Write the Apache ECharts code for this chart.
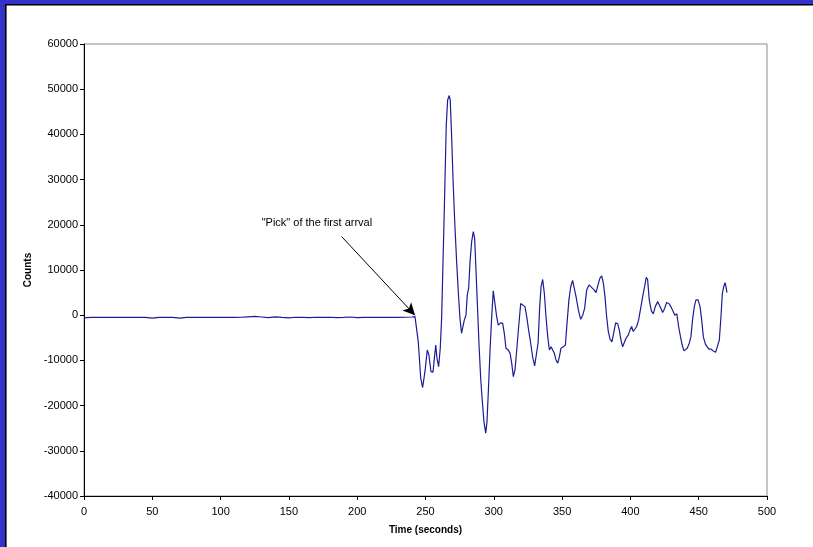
<!DOCTYPE html>
<html>
<head>
<meta charset="utf-8">
<script src="https://cdn.jsdelivr.net/npm/echarts@6/dist/echarts.min.js"></script>
<style>
html,body{margin:0;padding:0;background:#fff;}
#chart{width:813px;height:547px;}
</style>
</head>
<body>
<div id="chart"></div>
<script>
// Time in seconds
var times = [0,5,10,15,20,25,30,35,40,45,50,55,60,65,70,75,80,85,90,95,100,105,110,115,120,125,130,135,140,145,150,155,160,165,170,175,180,185,190,195,200,205,210,215,220,225,230,235,240,242.3,
244.7,246.5,247.9,249.6,251.3,252.5,254,255.5,256.5,257.5,258.4,259.6,260.8,261.8,263,264.2,265.2,266.2,267.4,268.1,269.1,270.3,271.5,272.8,274,275.2,276.4,277.4,278.4,279.6,280.6,281.6,282.6,283.8,285,286,287,287.9,289.2,290.4,291.6,292.8,294.1,295,296,297.2,298.4,299.6,300.9,302.1,303.3,305,306.5,307.7,308.9,310.6,311.9,313.1,314.3,315.5,316.8,318.2,319.7,321.1,322.8,324.1,325.5,327,328.4,329.9,331.1,332.4,333.6,334.6,335.8,337,338.2,339.5,340.7,341.9,343.1,344.3,345.5,346.8,348,349.2,350.9,352.4,353.6,355,356.3,357.7,358.9,360.2,361.9,363.6,365.1,366.5,368,369.7,371.4,373.4,374.8,376.3,377.7,379,380.2,381.4,382.6,383.8,385.1,386.5,387.7,389.2,390.7,391.9,393.1,394.3,395.5,396.8,398.4,399.7,400.9,402.1,403.4,404.6,406,407.5,409,410.4,411.6,412.6,413.8,415.4,416.8,418.2,420,421.7,423.6,425.1,426.5,428.2,429.6,431.3,432.5,434,435.3,436.7,437.9,439.2,440.4,441.6,443.1,444.3,445.6,446.8,448,449.5,451,452.2,453.4,454.9,456.3,457.5,459,460.7,462.4,463.6,465.1,466.3,467.3,468.3,469.3,470,470.7];
// Counts
var counts = [-600,-500,-500,-450,-500,-500,-500,-500,-480,-500,-650,-500,-500,-500,-650,-500,-500,-500,-500,-500,-500,-500,-500,-450,-350,-250,-400,-550,-350,-500,-600,-450,-500,-550,-450,-500,-450,-550,-500,-400,-550,-500,-450,-500,-500,-450,-500,-450,-400,-300,
-5860,-13900,-16000,-12500,-7700,-8800,-12500,-12600,-9500,-6600,-9500,-11400,-7300,-700,14000,28800,42000,47600,48600,47600,39900,28800,20000,11800,5200,-600,-4000,-2500,-1100,0,4500,6000,11800,16300,18500,17000,9600,3000,-6600,-14000,-19100,-23600,-26100,-23600,-16900,-8100,-700,5400,5400,-300,-2200,-1700,-1800,-4000,-7300,-7700,-8400,-10600,-13600,-12100,-7700,-2500,2600,2800,1900,-300,-3300,-6200,-9200,-11200,-11000,-6200,1900,6300,7900,4800,-300,-4800,-7700,-7000,-7700,-8400,-9900,-10600,-9200,-7300,-7000,-6600,-1800,3400,6300,7700,7400,4100,1200,-900,0,1500,5600,6700,6200,5600,5000,6700,8200,8700,7100,4100,-300,-3600,-5300,-5900,-4000,-1700,-1900,-3300,-5500,-7000,-6600,-5100,-4400,-3300,-2500,-3600,-3600,-2500,-1100,1500,4100,6300,8400,7900,3400,900,300,1900,3000,1900,600,1500,2800,2600,1900,800,0,300,-2500,-4800,-6600,-7900,-8200,-7300,-6200,-4800,-700,1900,3400,3400,1900,-1100,-4800,-6400,-6600,-7500,-7500,-7900,-8200,-7000,-5500,-300,4800,6300,7200,6200,5000];
var xTicks = {min:0, max:500, interval:50};
var yTicks = {min:-40000, max:60000, interval:10000};
var annotationText = '"Pick" of the first arrval';
var annotationAt = [170.5, 20300];
var arrowFrom = [188.6, 17400];
var arrowTo = [242.3, 0];

var data = times.map(function(t,i){return [t, counts[i]];});
var chart = echarts.init(document.getElementById('chart'), null, {renderer:'canvas'});
var font = 'Liberation Sans, Arial, sans-serif';
chart.setOption({
  animation:false,
  backgroundColor:'#ffffff',
  grid:{left:84, right:46, top:44, bottom:51, show:true, borderColor:'#8c8c8c', borderWidth:1, backgroundColor:'transparent'},
  xAxis:{type:'value', min:xTicks.min, max:xTicks.max, interval:xTicks.interval,
    name:'Time (seconds)', nameLocation:'middle', nameGap:29,
    nameTextStyle:{fontFamily:font, fontSize:10, fontWeight:'bold', color:'#000'},
    axisLine:{show:true, onZero:false, lineStyle:{color:'#000', width:1}},
    axisTick:{show:true, length:4, inside:false, lineStyle:{color:'#000'}},
    axisLabel:{fontFamily:font, fontSize:11, color:'#000', margin:10, formatter:function(v){return String(v);}},
    splitLine:{show:false}},
  yAxis:{type:'value', min:yTicks.min, max:yTicks.max, interval:yTicks.interval,
    name:'Counts', nameLocation:'middle', nameGap:49, nameRotate:90,
    nameTextStyle:{fontFamily:font, fontSize:10, fontWeight:'bold', color:'#000'},
    axisLine:{show:true, onZero:false, lineStyle:{color:'#000', width:1}},
    axisTick:{show:true, length:4, lineStyle:{color:'#000'}},
    axisLabel:{fontFamily:font, fontSize:11, color:'#000', margin:6, formatter:function(v){return String(v);}},
    splitLine:{show:false}},
  series:[{
    type:'line', data:data, showSymbol:false, smooth:false,
    lineStyle:{color:'#1c1c96', width:1.2},
    markLine:{silent:true, symbol:['none','arrow'], symbolSize:[9,12],
      lineStyle:{color:'#000', width:1, type:'solid'},
      label:{show:false},
      data:[[{coord:arrowFrom},{coord:arrowTo}]]}
  }]
});
var p = chart.convertToPixel({gridIndex:0}, annotationAt);
chart.setOption({graphic:[
  {type:'rect', shape:{x:0,y:0,width:813,height:4}, style:{fill:'#3333cc'}, z:100},
  {type:'rect', shape:{x:0,y:0,width:5,height:547}, style:{fill:'#3333cc'}, z:100},
  {type:'rect', shape:{x:5,y:4,width:808,height:1.6}, style:{fill:'#000'}, z:100},
  {type:'rect', shape:{x:5,y:4,width:1.6,height:543}, style:{fill:'#000'}, z:100},
  {type:'text', x:p[0], y:p[1], style:{text:annotationText, font:'11px '+font, fill:'#000', align:'center', verticalAlign:'middle'}, z:100}
]});
</script>
</body>
</html>
